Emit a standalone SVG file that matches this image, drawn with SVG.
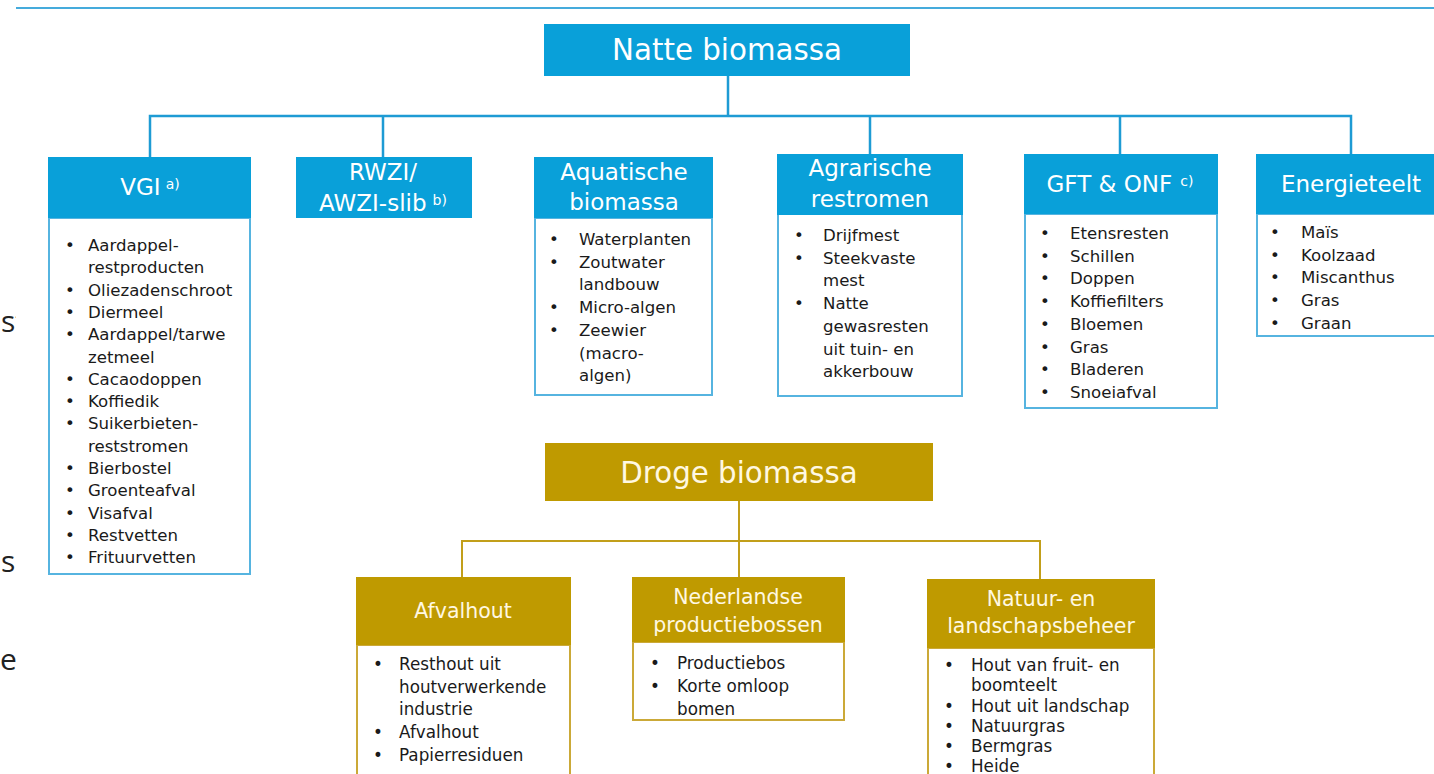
<svg xmlns="http://www.w3.org/2000/svg" width="1434" height="774" viewBox="0 0 1434 774">
  <defs>
    <style>
      .bg { fill: #ffffff; }
      .hb { fill: #09a0d9; }
      .hg { fill: #bf9a00; }
      .lb { fill: #ffffff; stroke: #56b4e0; stroke-width: 2; }
      .lg { fill: #ffffff; stroke: #cba938; stroke-width: 2; }
      .cb { fill: none; stroke: #1e9bd4; stroke-width: 2.5; }
      .cg { fill: none; stroke: #c29f1a; stroke-width: 2; }
      .ht { font-family: "DejaVu Sans", Verdana, sans-serif; font-size: 23px; fill: #ffffff; text-anchor: middle; }
      .gt { font-family: "DejaVu Sans", Verdana, sans-serif; font-size: 20.5px; fill: #fff8e2; text-anchor: middle; }
      .sup { font-size: 14px; }
      .li { font-family: "DejaVu Sans", Verdana, sans-serif; font-size: 16.6px; fill: #1a1a1a; }
      .lig { font-family: "DejaVu Sans", Verdana, sans-serif; font-size: 16.8px; fill: #1a1a1a; }
      .edge { font-family: "Open Sans", "DejaVu Sans", sans-serif; font-size: 30px; fill: #222222; }
    </style>
    <clipPath id="pageEdge">
      <rect x="0" y="0" width="16" height="774"/>
    </clipPath>
  </defs>

  <rect class="bg" x="0" y="0" width="1434" height="774"/>

  <!-- page rule at the top -->
  <line x1="16" y1="8" x2="1434" y2="8" stroke="#45abdc" stroke-width="2"/>

  <!-- cut-off words at the left page edge -->
  <g clip-path="url(#pageEdge)">
    <text class="edge" x="1" y="332">st</text>
    <text class="edge" x="1" y="572">su</text>
    <text class="edge" x="0" y="670">e</text>
  </g>

  <!-- connectors -->
  <g id="connectors">
    <path class="cb" d="M728,76 V116 M150,157 V116 H1351 V154 M383,116 V157 M870,116 V154 M1120,116 V154"/>
    <path class="cg" d="M739,501 V577 M462,577 V541 H1040 V579"/>
  </g>

  <!-- wet biomass -->
  <g id="natte">
    <rect class="hb" x="544" y="24" width="366" height="52"/>
    <text class="ht" x="727" y="60" font-size="29.3" style="font-size:29.3px">Natte biomassa</text>
  </g>

  <g id="vgi">
    <rect class="lb" x="49" y="218" width="201" height="356"/>
    <rect class="hb" x="48" y="157" width="203" height="61"/>
    <text class="ht" x="150" y="195">VGI<tspan class="sup" dx="5" dy="-6">a)</tspan></text>
    <text class="li">
      <tspan x="65" y="251">•</tspan><tspan x="65" y="295.6">•</tspan><tspan x="65" y="317.9">•</tspan>
      <tspan x="65" y="340.2">•</tspan><tspan x="65" y="384.8">•</tspan><tspan x="65" y="407.1">•</tspan>
      <tspan x="65" y="429.4">•</tspan><tspan x="65" y="474">•</tspan><tspan x="65" y="496.3">•</tspan>
      <tspan x="65" y="518.6">•</tspan><tspan x="65" y="540.9">•</tspan><tspan x="65" y="563.2">•</tspan>
    </text>
    <text class="li">
      <tspan x="88" y="251">Aardappel-</tspan>
      <tspan x="88" y="273.3">restproducten</tspan>
      <tspan x="88" y="295.6">Oliezadenschroot</tspan>
      <tspan x="88" y="317.9">Diermeel</tspan>
      <tspan x="88" y="340.2">Aardappel/tarwe</tspan>
      <tspan x="88" y="362.5">zetmeel</tspan>
      <tspan x="88" y="384.8">Cacaodoppen</tspan>
      <tspan x="88" y="407.1">Koffiedik</tspan>
      <tspan x="88" y="429.4">Suikerbieten-</tspan>
      <tspan x="88" y="451.7">reststromen</tspan>
      <tspan x="88" y="474">Bierbostel</tspan>
      <tspan x="88" y="496.3">Groenteafval</tspan>
      <tspan x="88" y="518.6">Visafval</tspan>
      <tspan x="88" y="540.9">Restvetten</tspan>
      <tspan x="88" y="563.2">Frituurvetten</tspan>
    </text>
  </g>

  <g id="rwzi">
    <rect class="hb" x="296" y="157" width="176" height="61"/>
    <text class="ht" x="383" y="180">RWZI/</text>
    <text class="ht" x="383" y="211">AWZI-slib<tspan class="sup" dx="6" dy="-6">b)</tspan></text>
  </g>

  <g id="aquatisch">
    <rect class="lb" x="535" y="218" width="177" height="177"/>
    <rect class="hb" x="534" y="157" width="179" height="61"/>
    <text class="ht" x="624" y="180">Aquatische</text>
    <text class="ht" x="624" y="210">biomassa</text>
    <text class="li">
      <tspan x="549" y="245">•</tspan><tspan x="549" y="267.7">•</tspan>
      <tspan x="549" y="313.1">•</tspan><tspan x="549" y="335.8">•</tspan>
    </text>
    <text class="li">
      <tspan x="579" y="245">Waterplanten</tspan>
      <tspan x="579" y="267.7">Zoutwater</tspan>
      <tspan x="579" y="290.4">landbouw</tspan>
      <tspan x="579" y="313.1">Micro-algen</tspan>
      <tspan x="579" y="335.8">Zeewier</tspan>
      <tspan x="579" y="358.5">(macro-</tspan>
      <tspan x="579" y="381.2">algen)</tspan>
    </text>
  </g>

  <g id="agrarisch">
    <rect class="lb" x="778" y="214" width="184" height="182"/>
    <rect class="hb" x="777" y="154" width="186" height="61"/>
    <text class="ht" x="870" y="176">Agrarische</text>
    <text class="ht" x="870" y="207">restromen</text>
    <text class="li">
      <tspan x="794" y="241">•</tspan><tspan x="794" y="263.7">•</tspan><tspan x="794" y="309.1">•</tspan>
    </text>
    <text class="li">
      <tspan x="823" y="241">Drijfmest</tspan>
      <tspan x="823" y="263.7">Steekvaste</tspan>
      <tspan x="823" y="286.4">mest</tspan>
      <tspan x="823" y="309.1">Natte</tspan>
      <tspan x="823" y="331.8">gewasresten</tspan>
      <tspan x="823" y="354.5">uit tuin- en</tspan>
      <tspan x="823" y="377.2">akkerbouw</tspan>
    </text>
  </g>

  <g id="gft">
    <rect class="lb" x="1025" y="214" width="192" height="194"/>
    <rect class="hb" x="1024" y="154" width="194" height="60"/>
    <text class="ht" x="1120" y="192">GFT &amp; ONF<tspan class="sup" dx="8" dy="-6">c)</tspan></text>
    <text class="li">
      <tspan x="1040" y="239">•</tspan><tspan x="1040" y="261.7">•</tspan><tspan x="1040" y="284.4">•</tspan>
      <tspan x="1040" y="307.1">•</tspan><tspan x="1040" y="329.8">•</tspan><tspan x="1040" y="352.5">•</tspan>
      <tspan x="1040" y="375.2">•</tspan><tspan x="1040" y="397.9">•</tspan>
    </text>
    <text class="li">
      <tspan x="1070" y="239">Etensresten</tspan>
      <tspan x="1070" y="261.7">Schillen</tspan>
      <tspan x="1070" y="284.4">Doppen</tspan>
      <tspan x="1070" y="307.1">Koffiefilters</tspan>
      <tspan x="1070" y="329.8">Bloemen</tspan>
      <tspan x="1070" y="352.5">Gras</tspan>
      <tspan x="1070" y="375.2">Bladeren</tspan>
      <tspan x="1070" y="397.9">Snoeiafval</tspan>
    </text>
  </g>

  <g id="energieteelt">
    <rect class="lb" x="1257" y="214" width="190" height="122"/>
    <rect class="hb" x="1256" y="154" width="190" height="60"/>
    <text class="ht" x="1351" y="192">Energieteelt</text>
    <text class="li">
      <tspan x="1270" y="238">•</tspan><tspan x="1270" y="260.7">•</tspan><tspan x="1270" y="283.4">•</tspan>
      <tspan x="1270" y="306.1">•</tspan><tspan x="1270" y="328.8">•</tspan>
    </text>
    <text class="li">
      <tspan x="1301" y="238">Maïs</tspan>
      <tspan x="1301" y="260.7">Koolzaad</tspan>
      <tspan x="1301" y="283.4">Miscanthus</tspan>
      <tspan x="1301" y="306.1">Gras</tspan>
      <tspan x="1301" y="328.8">Graan</tspan>
    </text>
  </g>

  <!-- dry biomass -->
  <g id="droge">
    <rect class="hg" x="545" y="443" width="388" height="58"/>
    <text class="gt" x="739" y="483" style="font-size:29.3px">Droge biomassa</text>
  </g>

  <g id="afvalhout">
    <rect class="lg" x="357" y="645" width="213" height="140"/>
    <rect class="hg" x="356" y="577" width="215" height="68"/>
    <text class="gt" x="463" y="618">Afvalhout</text>
    <text class="lig">
      <tspan x="373" y="670">•</tspan><tspan x="373" y="738">•</tspan><tspan x="373" y="761">•</tspan>
    </text>
    <text class="lig">
      <tspan x="399" y="670">Resthout uit</tspan>
      <tspan x="399" y="692.7">houtverwerkende</tspan>
      <tspan x="399" y="715.4">industrie</tspan>
      <tspan x="399" y="738">Afvalhout</tspan>
      <tspan x="399" y="761">Papierresiduen</tspan>
    </text>
  </g>

  <g id="productiebossen">
    <rect class="lg" x="633" y="642" width="211" height="78"/>
    <rect class="hg" x="632" y="577" width="213" height="65"/>
    <text class="gt" x="738" y="604">Nederlandse</text>
    <text class="gt" x="738" y="632">productiebossen</text>
    <text class="lig">
      <tspan x="650" y="669">•</tspan><tspan x="650" y="692">•</tspan>
    </text>
    <text class="lig">
      <tspan x="677" y="669">Productiebos</tspan>
      <tspan x="677" y="692">Korte omloop</tspan>
      <tspan x="677" y="715">bomen</tspan>
    </text>
  </g>

  <g id="natuurbeheer">
    <rect class="lg" x="928" y="648" width="226" height="140"/>
    <rect class="hg" x="927" y="579" width="228" height="69"/>
    <text class="gt" x="1041" y="606">Natuur- en</text>
    <text class="gt" x="1041" y="633">landschapsbeheer</text>
    <text class="lig">
      <tspan x="944" y="671">•</tspan><tspan x="944" y="712">•</tspan><tspan x="944" y="732">•</tspan>
      <tspan x="944" y="752">•</tspan><tspan x="944" y="772">•</tspan>
    </text>
    <text class="lig">
      <tspan x="971" y="671">Hout van fruit- en</tspan>
      <tspan x="971" y="691">boomteelt</tspan>
      <tspan x="971" y="712">Hout uit landschap</tspan>
      <tspan x="971" y="732">Natuurgras</tspan>
      <tspan x="971" y="752">Bermgras</tspan>
      <tspan x="971" y="772">Heide</tspan>
    </text>
  </g>
</svg>
